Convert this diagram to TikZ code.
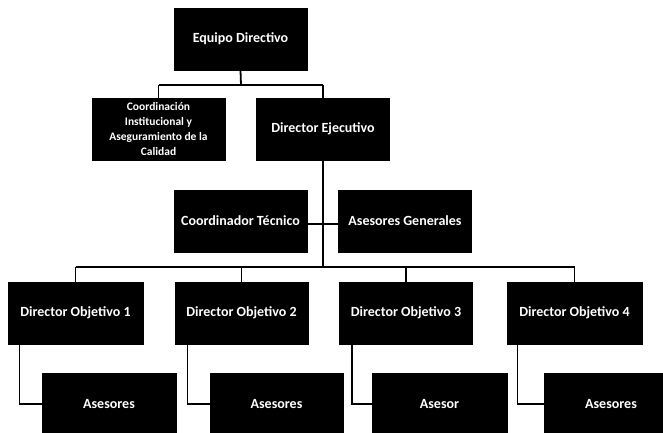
\documentclass[tikz,border=0pt]{standalone}
\usepackage{fontspec}
\setmainfont{Carlito}
\begin{document}
\begin{tikzpicture}[x=1pt,y=-1pt,
  box/.style={draw=black,fill=black,text=white,font=\bfseries\fontsize{14}{16}\selectfont,
    minimum width=133pt,minimum height=62pt,inner sep=1pt,align=center,line width=1pt},
  small/.style={font=\bfseries\fontsize{11.5}{15}\selectfont},
  link/.style={draw=black,line width=1.8pt}]
\useasboundingbox (0,0) rectangle (663,432);
\clip (0,0) rectangle (663,432);
\node[box] (eq) at (240.5,39) {Equipo Directivo};
\node[box,small] (co) at (158.5,129) {Coordinación\\Institucional y\\Aseguramiento de la\\Calidad};
\node[box] (de) at (323,129) {Director Ejecutivo};
\node[box] (ct) at (240.5,221) {Coordinador Técnico};
\node[box] (ag) at (405,221) {Asesores Generales};
\node[box,minimum width=135pt] (d1) at (75.5,313) {Director Objetivo 1};
\node[box] (d2) at (241.5,313) {Director Objetivo 2};
\node[box] (d3) at (406,313) {Director Objetivo 3};
\node[box,minimum width=135pt] (d4) at (574.5,313) {Director Objetivo 4};
\node[box,minimum width=134pt] (a1) at (109,404) {Asesores};
\node[box] (a2) at (276.5,404) {Asesores};
\node[box,minimum width=135pt] (a3) at (439.5,404) {Asesor};
\node[box,minimum width=134pt] (a4) at (611,404) {Asesores};
\coordinate (b1) at (241,85);
\coordinate (b2) at (323,267);
\draw[link] (eq.south) -- (b1);
\draw[link] (b1 -| co.north) -- (b1 -| de.north);
\draw[link] (b1 -| co.north) -- (co.north);
\draw[link] (b1 -| de.north) -- (de.north);
\draw[link] (de.south) -- (b2);
\draw[link] ([yshift=-3pt]ct.east) -- ([yshift=-3pt]ct.east -| de.south);
\draw[link] ([yshift=-3pt]ag.west) -- ([yshift=-3pt]ag.west -| de.south);
\draw[link] (b2 -| d1.north) -- (b2 -| d4.north);
\draw[link] (b2 -| d1.north) -- (d1.north);
\draw[link] (b2 -| d2.north) -- (d2.north);
\draw[link] (b2 -| d3.north) -- (d3.north);
\draw[link] (b2 -| d4.north) -- (d4.north);
\draw[link] ([xshift=12pt]d1.south west) |- (a1.west);
\draw[link] ([xshift=13pt]d2.south west) |- (a2.west);
\draw[link] ([xshift=13pt]d3.south west) |- (a3.west);
\draw[link] ([xshift=11pt]d4.south west) |- (a4.west);
\end{tikzpicture}
\end{document}
